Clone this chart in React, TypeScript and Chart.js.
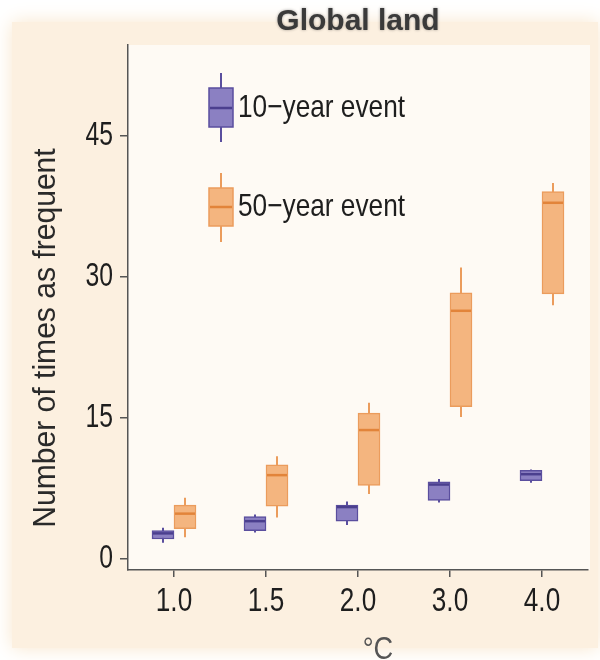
import React, { useEffect, useRef } from "react";
import { Chart, registerables } from "chart.js";

Chart.register(...registerables);

const categories = ["1.0", "1.5", "2.0", "3.0", "4.0"];
const yTickValues = [0, 15, 30, 45];

const tenMin = [1.7, 2.8, 3.6, 6.0, 8.1];
const tenQ1 = [2.1, 3.0, 4.0, 6.2, 8.3];
const tenMed = [2.7, 4.0, 5.5, 7.9, 9.0];
const tenQ3 = [3.0, 4.5, 5.7, 8.2, 9.4];
const tenMax = [3.3, 4.7, 6.1, 8.5, 9.5];

const fiftyMin = [2.3, 4.4, 6.9, 15.1, 27.0];
const fiftyQ1 = [3.2, 5.6, 7.8, 16.2, 28.2];
const fiftyMed = [4.8, 8.9, 13.7, 26.4, 37.9];
const fiftyQ3 = [5.7, 10.0, 15.5, 28.3, 39.1];
const fiftyMax = [6.5, 10.9, 16.6, 31.0, 40.0];

const SANS = "'Liberation Sans', Arial, sans-serif";

const styles = [
  { fill: "#8b80c2", border: "#5a4e9e", median: "#4b3f8e", label: "10\u2212year event" },
  { fill: "#f4b57f", border: "#eb9c5c", median: "#e2843a", label: "50\u2212year event" },
];

const stats = [
  { min: tenMin, med: tenMed, max: tenMax },
  { min: fiftyMin, med: fiftyMed, max: fiftyMax },
];

function condensed(ctx: any, text: string, x: number, y: number, sx: number, align: string) {
  ctx.save();
  ctx.translate(x, y);
  ctx.scale(sx, 1);
  ctx.textAlign = align;
  ctx.textBaseline = "middle";
  ctx.fillText(text, 0, 0);
  ctx.restore();
}

const boxPlugin = {
  id: "boxExtras",
  beforeDraw(chart: any) {
    const { ctx, chartArea: a, width, height } = chart;
    ctx.save();
    ctx.fillStyle = "#ffffff";
    ctx.fillRect(0, 0, width, height);
    ctx.shadowColor = "#f8e6cc";
    ctx.shadowBlur = 18;
    ctx.fillStyle = "#fcf0e0";
    ctx.fillRect(12, 22, width - 14, height - 34);
    ctx.shadowBlur = 0;
    ctx.fillStyle = "#fefaf4";
    ctx.fillRect(a.left, a.top, a.right - a.left + 2, a.bottom - a.top);
    ctx.restore();
  },
  beforeDatasetsDraw(chart: any) {
    const { ctx } = chart;
    const y = chart.scales.y;
    ctx.save();
    stats.forEach((s, i) => {
      const meta = chart.getDatasetMeta(i);
      ctx.strokeStyle = styles[i].border;
      ctx.lineWidth = 2;
      meta.data.forEach((el: any, j: number) => {
        ctx.beginPath();
        ctx.moveTo(el.x, y.getPixelForValue(s.min[j]));
        ctx.lineTo(el.x, y.getPixelForValue(s.max[j]));
        ctx.stroke();
      });
    });
    ctx.restore();
  },
  afterDatasetsDraw(chart: any) {
    const { ctx, chartArea: a } = chart;
    const y = chart.scales.y;
    const x = chart.scales.x;
    ctx.save();
    stats.forEach((s, i) => {
      const meta = chart.getDatasetMeta(i);
      ctx.strokeStyle = styles[i].median;
      ctx.lineWidth = 2.5;
      meta.data.forEach((el: any, j: number) => {
        const w = el.width / 2 - 1;
        const py = y.getPixelForValue(s.med[j]);
        ctx.beginPath();
        ctx.moveTo(el.x - w, py);
        ctx.lineTo(el.x + w, py);
        ctx.stroke();
      });
    });

    // tick labels
    ctx.fillStyle = "#1e1e1e";
    ctx.font = `33px ${SANS}`;
    yTickValues.forEach((v) => {
      condensed(ctx, String(v), 113, y.getPixelForValue(v), 0.75, "right");
    });
    ctx.font = `34px ${SANS}`;
    categories.forEach((c, i) => {
      condensed(ctx, c, x.getPixelForTick(i), 602, 0.77, "center");
    });

    // legend
    const ix = a.left + 93;
    const entries = [
      { top: 88, bottom: 127, wt: 73, wb: 142, mid: 108 },
      { top: 188, bottom: 226, wt: 173, wb: 242, mid: 207 },
    ];
    entries.forEach((e, i) => {
      const st = styles[i];
      ctx.strokeStyle = st.border;
      ctx.lineWidth = 2;
      ctx.beginPath();
      ctx.moveTo(ix, e.wt);
      ctx.lineTo(ix, e.wb);
      ctx.stroke();
      ctx.fillStyle = st.fill;
      ctx.fillRect(ix - 12, e.top, 24, e.bottom - e.top);
      ctx.lineWidth = 1.5;
      ctx.strokeRect(ix - 12, e.top, 24, e.bottom - e.top);
      ctx.strokeStyle = st.median;
      ctx.lineWidth = 2.5;
      ctx.beginPath();
      ctx.moveTo(ix - 11, e.mid);
      ctx.lineTo(ix + 11, e.mid);
      ctx.stroke();
      ctx.fillStyle = "#1e1e1e";
      ctx.font = `32px ${SANS}`;
      condensed(ctx, st.label, ix + 17, e.mid, 0.82, "left");
    });
    ctx.restore();
  },
  afterDraw(chart: any) {
    const { ctx, chartArea: a } = chart;
    ctx.save();
    // title
    ctx.font = `bold 30px ${SANS}`;
    ctx.textAlign = "center";
    ctx.textBaseline = "middle";
    ctx.shadowColor = "rgba(0,0,0,0.35)";
    ctx.shadowBlur = 3;
    ctx.fillStyle = "#3a3a3a";
    ctx.fillText("Global land", (a.left + a.right) / 2, 22);
    ctx.shadowBlur = 0;
    // y title
    ctx.fillStyle = "#2a2a2a";
    ctx.font = `31px ${SANS}`;
    ctx.save();
    ctx.translate(46, 338);
    ctx.rotate(-Math.PI / 2);
    ctx.scale(0.97, 1);
    ctx.fillText("Number of times as frequent", 0, 0);
    ctx.restore();
    // x title
    ctx.fillStyle = "#555";
    ctx.font = `32px ${SANS}`;
    condensed(ctx, "\u00b0C", 378, 650, 0.85, "center");
    ctx.restore();
  },
};

export default function App() {
  const ref = useRef<HTMLCanvasElement>(null);
  useEffect(() => {
    if (!ref.current) return;
    const chart = new Chart(ref.current, {
      type: "bar",
      data: {
        labels: categories,
        datasets: [
          {
            label: styles[0].label,
            data: tenQ1.map((q, i) => [q, tenQ3[i]]),
            backgroundColor: styles[0].fill,
            borderColor: styles[0].border,
            borderWidth: 1.5,
            borderSkipped: false,
            barThickness: 22,
            categoryPercentage: 0.543,
          },
          {
            label: styles[1].label,
            data: fiftyQ1.map((q, i) => [q, fiftyQ3[i]]),
            backgroundColor: styles[1].fill,
            borderColor: styles[1].border,
            borderWidth: 1.5,
            borderSkipped: false,
            barThickness: 22,
            categoryPercentage: 0.543,
          },
        ],
      },
      options: {
        responsive: false,
        animation: false,
        layout: { padding: { top: 45, right: 12, left: 0, bottom: 0 } },
        plugins: { legend: { display: false }, tooltip: { enabled: false }, title: { display: false } },
        scales: {
          x: {
            offset: true,
            afterFit: (s: any) => {
              s.height = 90;
            },
            grid: {
              offset: false,
              drawOnChartArea: false,
              drawTicks: true,
              tickLength: 7,
              color: "#555",
              lineWidth: 1.5,
            },
            border: { display: true, color: "#555", width: 1.5 },
            ticks: { display: false },
          },
          y: {
            min: -1.2,
            max: 54.7,
            afterFit: (s: any) => {
              s.width = 128;
            },
            afterBuildTicks: (s: any) => {
              s.ticks = yTickValues.map((v) => ({ value: v }));
            },
            grid: {
              drawOnChartArea: false,
              drawTicks: true,
              tickLength: 8,
              color: "#555",
              lineWidth: 1.5,
            },
            border: { display: true, color: "#555", width: 1.5 },
            ticks: { display: false },
          },
        },
      },
      plugins: [boxPlugin],
    });
    return () => chart.destroy();
  }, []);
  return (
    <div style={{ position: "absolute", left: 0, top: 0, width: 600, height: 660 }}>
      <canvas ref={ref} width={600} height={660} />
    </div>
  );
}
